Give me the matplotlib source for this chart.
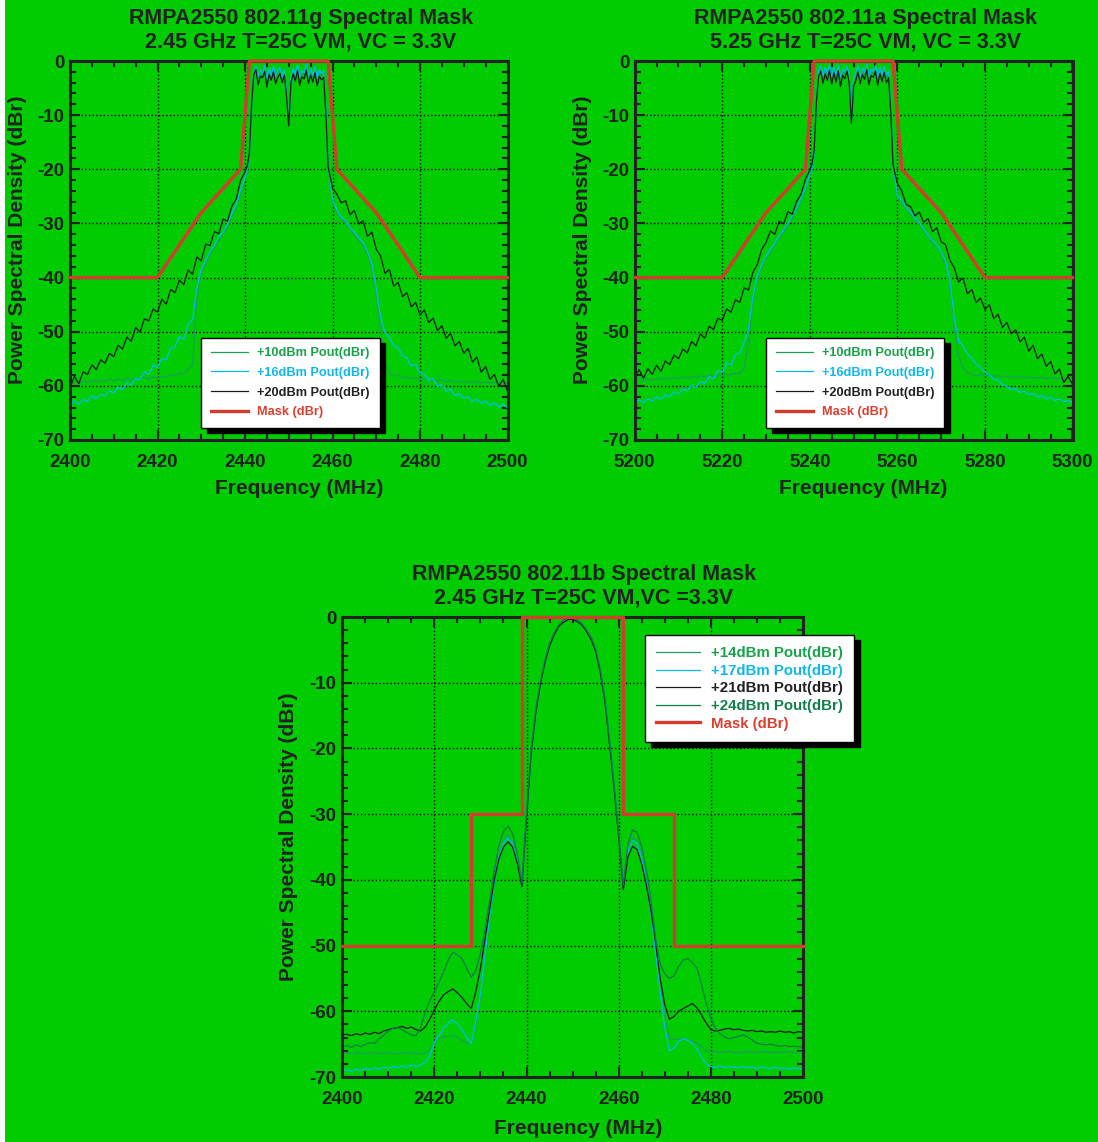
import numpy as np
import matplotlib.pyplot as plt
from matplotlib.patches import Rectangle
from matplotlib.ticker import MultipleLocator

plt.rcParams['font.family'] = ['Liberation Sans', 'DejaVu Sans']
plt.rcParams['font.weight'] = 'bold'
plt.rcParams['axes.unicode_minus'] = False

BG = '#00cc00'
INK = '#222222'
C_GREEN = '#1f9c5c'
C_CYAN = '#00bff0'
C_BLACK = '#1a1a1a'
C_DKGREEN = '#16784c'
C_MASK = '#d63c2e'

# ---------------- 802.11g (2.45 GHz) ----------------
g_freq = np.concatenate([np.arange(2400, 2440), np.arange(2440, 2460.5, 0.5), np.arange(2461, 2501)])

g_p10 = [-59.6, -59.2, -59.5, -59.1, -59.4, -59.0, -59.3, -58.9, -59.2, -58.8,
         -59.1, -58.7, -59.0, -58.6, -58.9, -58.5, -58.8, -58.4, -58.7, -58.3,
         -58.6, -58.2, -58.4, -58.0, -58.1, -57.6, -57.8, -57.0, -56.2, -43.5,
         -39.0, -37.3, -35.6, -34.4, -33.0, -32.1, -30.6, -28.7, -27.0, -24.3,
         -21.8, -20.4, -18.0, -7.6, -2.2, -1.4, -3.3, -1.9, -2.8, -1.2,
         -3.6, -1.8, -3.0, -1.3, -3.2, -2.1, -1.6, -3.4, -2.0, -5.9,
         -11.9, -3.6, -1.7, -2.9, -1.1, -3.3, -2.2, -2.6, -1.0, -3.2,
         -1.8, -3.0, -1.4, -3.5, -2.0, -2.7, -2.2, -9.4, -19.4, -23.0,
         -25.9,
         -27.9, -29.2, -29.8, -31.1, -32.0, -33.1, -34.0, -35.7, -38.2, -43.0,
         -49.5, -55.8, -57.6, -58.2, -58.0, -58.5, -58.3, -58.7, -58.5, -58.9,
         -58.7, -59.0, -58.8, -59.1, -58.9, -59.2, -59.0, -59.3, -59.1, -59.4,
         -59.2, -59.4, -59.2, -59.5, -59.3, -59.5, -59.3, -59.6, -59.4, -59.6]

g_p16 = [-63.6, -62.8, -63.4, -62.5, -62.9, -61.8, -62.4, -61.5, -61.9, -60.9,
         -61.3, -60.2, -60.7, -59.5, -59.9, -58.6, -58.9, -57.4, -57.9, -56.2,
         -56.6, -54.9, -55.2, -53.1, -52.8, -50.9, -51.4, -48.6, -47.8, -42.0,
         -38.5, -36.8, -35.2, -34.0, -32.5, -31.6, -30.1, -28.2, -26.5, -23.8,
         -21.5, -20.0, -17.5, -7.0, -1.8, -1.0, -2.9, -1.5, -2.4, -0.8,
         -3.2, -1.4, -2.6, -0.9, -2.8, -1.7, -1.2, -3.0, -1.6, -5.5,
         -11.5, -3.2, -1.3, -2.5, -0.7, -2.9, -1.8, -2.2, -0.6, -2.8,
         -1.4, -2.6, -1.0, -3.1, -1.6, -2.3, -1.8, -9.0, -19.0, -22.5,
         -25.5,
         -27.6, -28.9, -29.4, -30.8, -31.6, -32.7, -33.5, -35.2, -37.5, -42.0,
         -47.5, -50.2, -51.0, -52.6, -52.9, -54.5, -54.8, -56.3, -56.0, -57.6,
         -57.9, -59.0, -58.6, -60.1, -59.8, -61.0, -60.6, -61.8, -61.5, -62.3,
         -62.0, -62.9, -62.5, -63.2, -62.8, -63.6, -63.1, -63.9, -63.4, -64.1]

g_p20 = [-60.5, -58.2, -59.6, -57.4, -57.9, -56.1, -57.0, -55.2, -55.8, -54.0,
         -54.6, -52.5, -53.2, -51.0, -51.8, -49.2, -50.1, -47.6, -48.0, -45.8,
         -46.4, -44.0, -44.9, -42.2, -42.8, -40.5, -41.3, -38.6, -39.4, -36.2,
         -36.9, -33.8, -34.1, -31.5, -31.9, -29.2, -29.6, -26.8, -25.5, -22.0,
         -20.5, -19.5, -17.0, -8.0, -2.5, -1.6, -4.4, -2.8, -3.1, -1.9,
         -4.8, -2.5, -3.6, -2.0, -4.2, -3.0, -2.3, -4.0, -2.6, -6.5,
         -12.0, -4.0, -2.4, -3.7, -1.8, -4.5, -2.9, -3.3, -1.7, -4.1,
         -2.6, -3.9, -2.2, -4.6, -2.8, -3.5, -3.0, -10.0, -19.5, -21.5,
         -23.5,
         -24.6, -26.2, -25.8, -28.4, -27.6, -30.1, -29.5, -32.4, -31.6, -34.8,
         -36.0, -39.2, -38.5, -41.6, -40.9, -43.5, -42.8, -45.4, -44.6, -46.9,
         -46.0, -48.3, -47.5, -49.8, -48.9, -51.2, -50.3, -52.6, -51.8, -54.0,
         -53.1, -55.6, -54.7, -57.5, -56.4, -58.8, -57.9, -60.1, -58.8, -61.0]

g_mask_f = [2400, 2420, 2430, 2439, 2441, 2459, 2461, 2470, 2480, 2500]
g_mask_db = [-40, -40, -28, -20, 0, 0, -20, -28, -40, -40]

# ---------------- 802.11a (5.25 GHz) ----------------
a_freq = np.concatenate([np.arange(5200, 5240), np.arange(5240, 5260.5, 0.5), np.arange(5261, 5301)])

a_p10 = [-59.0, -58.8, -59.1, -58.7, -59.0, -58.6, -58.9, -58.5, -58.8, -58.4,
         -58.7, -58.3, -58.6, -58.2, -58.5, -58.1, -58.4, -58.0, -58.3, -57.9,
         -58.2, -57.8, -58.0, -57.6, -57.8, -56.5, -52.0, -44.5, -40.3, -38.0,
         -36.4, -35.2, -34.0, -32.7, -31.6, -30.4, -29.0, -27.5, -25.8, -23.8,
         -21.4, -20.2, -17.6, -7.2, -2.0, -1.3, -3.1, -1.6, -2.6, -1.1,
         -3.3, -1.5, -2.9, -1.2, -3.4, -1.9, -2.4, -1.3, -3.0, -11.2,
         -3.6, -2.5, -1.3, -3.2, -1.7, -2.5, -1.0, -3.3, -1.9, -2.3,
         -1.2, -3.4, -1.6, -2.8, -1.4, -3.0, -2.3, -9.2, -19.0, -22.4,
         -25.2,
         -26.1, -27.3, -28.2, -29.3, -30.1, -31.3, -32.5, -33.4, -34.3, -35.5,
         -37.4, -41.0, -49.0, -54.5, -56.8, -57.6, -57.9, -58.1, -57.9, -58.2,
         -58.0, -58.3, -58.1, -58.4, -58.2, -58.5, -58.3, -58.5, -58.3, -58.6,
         -58.4, -58.6, -58.4, -58.7, -58.5, -58.7, -58.5, -58.8, -58.6, -58.8]

a_p16 = [-63.3, -62.6, -63.1, -62.4, -62.8, -62.0, -62.5, -61.7, -62.0, -61.1,
         -61.5, -60.6, -60.9, -59.9, -60.3, -59.2, -59.6, -58.3, -58.7, -57.2,
         -57.5, -55.8, -56.1, -54.2, -53.9, -52.0, -49.5, -43.5, -39.8, -37.6,
         -36.0, -34.8, -33.6, -32.3, -31.2, -30.0, -28.6, -27.1, -25.4, -23.4,
         -21.0, -19.8, -17.2, -6.8, -1.6, -0.9, -2.7, -1.2, -2.2, -0.7,
         -2.9, -1.1, -2.5, -0.8, -3.0, -1.5, -2.0, -0.9, -2.6, -10.8,
         -3.2, -2.1, -0.9, -2.8, -1.3, -2.1, -0.6, -2.9, -1.5, -1.9,
         -0.8, -3.0, -1.2, -2.4, -1.0, -2.6, -1.9, -8.8, -18.6, -22.0,
         -24.8,
         -25.8, -27.0, -27.9, -29.0, -29.8, -31.0, -32.2, -33.1, -34.0, -35.2,
         -37.0, -40.5, -47.5, -51.8, -52.6, -54.1, -54.9, -56.0, -56.6, -57.5,
         -57.9, -58.8, -58.9, -59.8, -60.1, -60.7, -60.5, -61.2, -61.0, -61.6,
         -61.4, -62.0, -61.8, -62.4, -62.1, -62.7, -62.4, -63.0, -62.7, -63.2]

a_p20 = [-58.4, -57.0, -58.6, -56.8, -57.9, -56.2, -57.3, -55.4, -56.1, -54.3,
         -55.0, -53.2, -53.9, -51.8, -52.6, -50.4, -51.2, -49.0, -49.6, -47.5,
         -47.9, -45.8, -46.4, -44.1, -44.6, -41.9, -42.3, -39.0, -37.6, -34.8,
         -33.5, -31.4, -32.0, -29.6, -30.1, -27.8, -28.3, -25.9, -24.6, -21.8,
         -20.2, -19.0, -16.5, -7.5, -2.8, -1.9, -4.1, -2.4, -3.6, -1.7,
         -4.3, -2.2, -3.9, -1.8, -4.7, -2.6, -3.3, -1.9, -4.0, -11.5,
         -4.6, -3.6, -2.0, -4.2, -2.5, -3.4, -1.6, -4.4, -2.7, -3.0,
         -1.9, -4.5, -2.3, -3.8, -2.1, -4.0, -3.1, -9.5, -19.0, -21.0,
         -22.6,
         -24.0, -26.5, -26.9, -28.6, -27.9, -29.8, -29.1, -31.5, -30.8, -33.4,
         -33.9, -36.8, -38.2, -40.8, -40.1, -43.0, -42.2, -44.6, -43.8, -45.9,
         -45.0, -47.6, -46.8, -49.2, -48.3, -50.4, -49.6, -51.9, -51.0, -53.6,
         -52.5, -55.0, -54.1, -56.4, -55.5, -57.8, -56.9, -59.4, -58.2, -59.8]

a_mask_f = [5200, 5220, 5230, 5239, 5241, 5259, 5261, 5270, 5280, 5300]
a_mask_db = [-40, -40, -28, -20, 0, 0, -20, -28, -40, -40]

# ---------------- 802.11b (2.45 GHz) ----------------
b_freq = np.arange(2400, 2501)

b_p14 = [-66.4, -66.3, -66.5, -66.4, -66.3, -66.5, -66.4, -66.3, -66.4, -66.5,
         -66.3, -66.4, -66.5, -66.3, -66.4, -66.4, -66.3, -66.5, -66.4, -65.9,
         -64.8, -64.2, -63.9, -63.7, -63.7, -64.0, -64.4, -64.8, -64.9, -62.0,
         -58.0, -52.0, -46.0, -40.6, -36.6, -34.2, -33.2, -34.2, -37.0, -40.6,
         -30.0, -20.4, -14.1, -9.9, -6.6, -4.1, -2.5, -1.3, -0.6, -0.2,
         -0.1, -0.5, -1.1, -2.0, -3.1, -4.9, -8.0, -12.3, -18.7, -25.5,
         -33.1, -41.0, -35.4, -33.6, -34.0, -36.4, -40.2, -44.8, -50.5, -56.0,
         -61.0, -64.2, -64.2, -64.3, -64.2, -64.4, -64.6, -64.8, -65.4, -66.0,
         -66.2, -66.1, -66.3, -66.2, -66.1, -66.3, -66.2, -66.3, -66.1, -66.2,
         -66.3, -66.2, -66.1, -66.3, -66.2, -66.3, -66.2, -66.1, -66.3, -66.2, -66.2]

b_p17 = [-69.0, -68.9, -69.1, -68.8, -69.0, -68.7, -68.9, -68.6, -68.8, -68.5,
         -68.7, -68.4, -68.6, -68.3, -68.5, -68.2, -68.4, -68.2, -67.8, -66.8,
         -64.8, -63.6, -62.6, -61.8, -61.3, -61.9, -62.8, -64.0, -64.9, -61.5,
         -57.5, -51.5, -45.5, -40.2, -36.4, -34.4, -33.6, -34.6, -37.2, -40.8,
         -30.2, -20.5, -14.2, -9.9, -6.6, -4.1, -2.5, -1.2, -0.6, -0.2,
         -0.2, -0.5, -1.1, -2.0, -3.2, -5.0, -8.1, -12.4, -18.8, -25.6,
         -33.2, -41.2, -35.8, -34.0, -34.4, -36.8, -40.6, -45.0, -51.0, -57.0,
         -62.5, -66.0, -65.6, -64.6, -64.2, -64.4, -64.9, -65.8, -67.0, -68.0,
         -68.4, -68.5, -68.3, -68.6, -68.4, -68.5, -68.6, -68.4, -68.6, -68.5,
         -68.7, -68.5, -68.6, -68.7, -68.5, -68.7, -68.6, -68.8, -68.6, -68.7, -68.7]

b_p21 = [-63.6, -63.5, -63.7, -63.4, -63.6, -63.3, -63.5, -63.2, -63.4, -63.0,
         -62.8, -62.6, -62.5, -62.3, -62.6, -62.4, -62.8, -63.0, -62.4, -61.2,
         -59.8, -58.5, -57.5, -57.0, -56.6, -57.2, -57.9, -58.8, -59.6, -57.0,
         -53.5, -49.0, -44.5, -40.0, -36.8, -35.0, -34.2, -35.0, -37.5, -41.0,
         -30.5, -20.8, -14.6, -10.2, -6.9, -4.4, -2.7, -1.4, -0.8, -0.4,
         -0.3, -0.7, -1.2, -2.2, -3.4, -5.2, -8.4, -12.8, -19.2, -26.0,
         -33.5, -41.5, -36.5, -34.9, -35.4, -37.6, -40.8, -44.6, -49.5, -55.0,
         -59.0, -61.2, -60.8, -60.0, -59.6, -59.2, -58.8, -59.5, -60.6, -61.8,
         -62.8, -63.0, -62.9, -62.7, -62.6, -62.8, -62.7, -62.9, -63.0, -62.9,
         -63.1, -63.0, -63.2, -63.1, -63.2, -63.0, -63.2, -63.1, -63.3, -63.1, -63.2]

b_p24 = [-65.4, -65.2, -65.5, -65.1, -65.4, -65.0, -64.8, -64.9, -64.2, -63.6,
         -63.0, -62.6, -62.4, -62.8, -63.2, -63.6, -63.7, -62.5, -60.2, -58.4,
         -57.0, -55.6, -54.0, -52.2, -51.0, -51.4, -52.0, -53.5, -54.8, -53.8,
         -51.2, -47.5, -43.2, -38.6, -34.8, -32.6, -31.8, -33.0, -36.0, -40.5,
         -29.8, -20.2, -14.0, -9.8, -6.5, -4.0, -2.4, -1.2, -0.5, -0.1,
         -0.2, -0.4, -1.0, -1.9, -3.0, -4.8, -7.9, -12.2, -18.6, -25.4,
         -33.0, -40.8, -34.5, -32.4, -32.8, -35.0, -38.5, -43.0, -48.8, -52.8,
         -54.3, -55.0, -54.6, -53.2, -52.2, -52.0, -52.6, -53.4, -56.0, -58.8,
         -61.0, -62.6, -63.4, -63.9, -64.2, -64.0, -63.8, -63.6, -63.9, -64.4,
         -64.9, -65.0, -65.1, -65.0, -65.2, -65.3, -65.2, -65.4, -65.3, -65.4, -65.4]

b_mask_f = [2400, 2428, 2428, 2439, 2439, 2461, 2461, 2472, 2472, 2500]
b_mask_db = [-50, -50, -30, -30, 0, 0, -30, -30, -50, -50]


def style_axes(ax, xlim):
    ax.set_facecolor(BG)
    ax.set_xlim(xlim)
    ax.set_ylim(-70, 0)
    ax.set_xticks(np.arange(xlim[0], xlim[1] + 1, 20))
    ax.set_yticks(np.arange(-70, 1, 10))
    ax.xaxis.set_minor_locator(MultipleLocator(5))
    ax.yaxis.set_minor_locator(MultipleLocator(2))
    ax.tick_params(which='both', direction='in', top=True, right=True, color=INK, width=1.5)
    ax.tick_params(which='major', length=7, labelsize=13.5, labelcolor=INK)
    ax.tick_params(which='minor', length=4)
    ax.tick_params(axis='x', pad=10)
    ax.tick_params(axis='y', pad=4)
    ax.grid(True, which='major', color='black', linestyle=':', linewidth=1)
    for s in ax.spines.values():
        s.set_linewidth(2.2)
        s.set_color(INK)
        s.set_zorder(5)


def add_legend(ax, anchor, fontsize, colors, spacing):
    leg = ax.legend(loc='upper left', bbox_to_anchor=anchor, borderaxespad=0,
                    fontsize=fontsize, labelcolor=colors, frameon=True, fancybox=False,
                    shadow={'ox': 4, 'oy': -4, 'shade': 1.0, 'alpha': 1},
                    handlelength=2.9, handletextpad=0.75, labelspacing=spacing, borderpad=0.75)
    leg.get_frame().set_edgecolor('black')
    leg.get_frame().set_linewidth(1.0)
    leg.get_frame().set_facecolor('white')
    leg.get_frame().set_alpha(1)
    leg.set_zorder(10)


fig = plt.figure(figsize=(10.98, 11.42), dpi=100)
fig.patch.set_facecolor('white')
fig.add_artist(Rectangle((5 / 1098, 0), 1, 1, transform=fig.transFigure, facecolor=BG, edgecolor='none', zorder=-10))

W, H = 1098.0, 1142.0

def px_axes(x0, x1, y0, y1):
    return fig.add_axes([x0 / W, 1 - y1 / H, (x1 - x0) / W, (y1 - y0) / H])

# top panels
panels = [
    (70, 507.5, 'RMPA2550 802.11g Spectral Mask\n2.45 GHz T=25C VM, VC = 3.3V', (2400, 2500),
     g_freq, g_p10, g_p16, g_p20, g_mask_f, g_mask_db),
    (634.7, 1072.5, 'RMPA2550 802.11a Spectral Mask\n5.25 GHz T=25C VM, VC = 3.3V', (5200, 5300),
     a_freq, a_p10, a_p16, a_p20, a_mask_f, a_mask_db),
]
for x0, x1, title, xlim, f, p10, p16, p20, mf, mdb in panels:
    ax = px_axes(x0, x1, 61, 440)
    style_axes(ax, xlim)
    ax.plot(f, p10, color=C_GREEN, lw=0.9, label='+10dBm Pout(dBr)')
    ax.plot(f, p16, color=C_CYAN, lw=0.9, label='+16dBm Pout(dBr)')
    ax.plot(f, p20, color=C_BLACK, lw=0.9, label='+20dBm Pout(dBr)')
    ax.plot(mf, mdb, color=C_MASK, lw=2.4, label='Mask (dBr)', clip_on=False, zorder=6)
    add_legend(ax, (0.30, 0.27), 9.2, ['#17a34a', '#10b8e8', INK, '#d9402f'], 0.6)
    cx = (x0 + x1) / 2 + 12
    fig.text(cx / W, 1 - 30 / H, title, ha='center', va='center', fontsize=15.5,
             color=INK, linespacing=1.15)
    fig.text(((x0 + x1) / 2 + 10) / W, 1 - 488 / H, 'Frequency (MHz)', ha='center', va='center',
             fontsize=15, color=INK)
    fig.text((x0 - 52) / W, 1 - 240 / H, 'Power Spectral Density (dBr)', ha='center', va='center',
             rotation=90, fontsize=15, color=INK)

# bottom panel
bx0, bx1 = 342.2, 803.0
ax = px_axes(bx0, bx1, 617, 1077)
style_axes(ax, (2400, 2500))
ax.plot(b_freq, b_p14, color=C_GREEN, lw=0.9, label='+14dBm Pout(dBr)')
ax.plot(b_freq, b_p17, color=C_CYAN, lw=0.9, label='+17dBm Pout(dBr)')
ax.plot(b_freq, b_p21, color=C_BLACK, lw=0.9, label='+21dBm Pout(dBr)')
ax.plot(b_freq, b_p24, color=C_DKGREEN, lw=0.9, label='+24dBm Pout(dBr)')
ax.plot(b_mask_f, b_mask_db, color=C_MASK, lw=2.4, label='Mask (dBr)', clip_on=False, zorder=6)
add_legend(ax, (0.657, 0.961), 10.8, ['#17a34a', '#10b8e8', INK, '#12804a', '#d9402f'], 0.24)
fig.text(584 / W, 1 - 586 / H, 'RMPA2550 802.11b Spectral Mask\n2.45 GHz T=25C VM,VC =3.3V',
         ha='center', va='center', fontsize=15.5, color=INK, linespacing=1.15)
fig.text(578 / W, 1 - 1128 / H, 'Frequency (MHz)', ha='center', va='center', fontsize=15, color=INK)
fig.text(289 / W, 1 - 837 / H, 'Power Spectral Density (dBr)', ha='center', va='center',
         rotation=90, fontsize=15, color=INK)

fig.savefig('out.png', dpi=100, facecolor=fig.get_facecolor())
plt.close(fig)
